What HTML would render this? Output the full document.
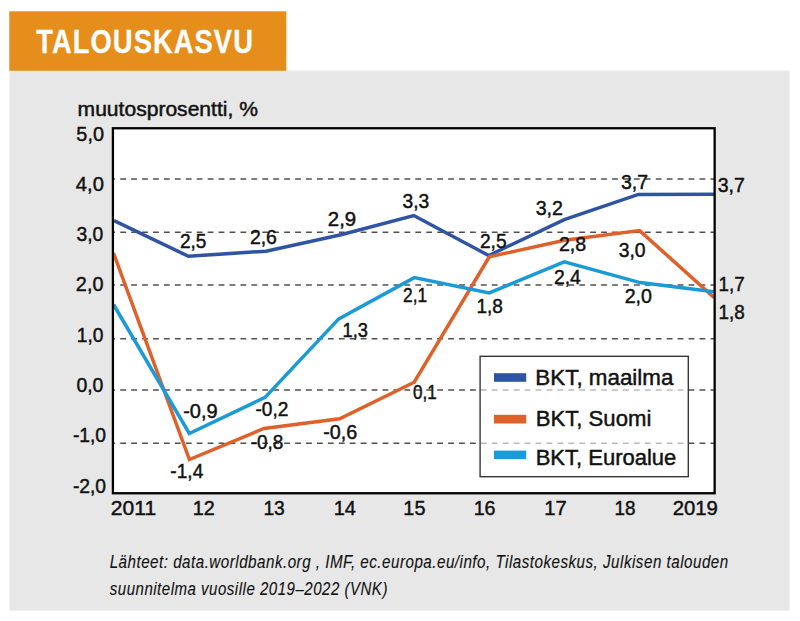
<!DOCTYPE html>
<html><head><meta charset="utf-8"><style>
html,body{margin:0;padding:0;background:#fff;width:800px;height:621px;overflow:hidden}
svg{display:block}
text{font-family:"Liberation Sans", sans-serif}
</style></head><body>
<svg width="800" height="621" viewBox="0 0 800 621">
<defs><clipPath id="cp"><rect x="112.9" y="128.25" width="601.75" height="365"/></clipPath></defs>
<rect x="9.5" y="70.6" width="780" height="540" fill="#E7E7E7"/>
<rect x="9.3" y="11.3" width="277" height="59.6" fill="#E68E1B"/>
<rect x="9.5" y="70.9" width="780" height="1" fill="#EDEDEF"/>
<text transform="translate(36.2,52.8) scale(0.8331,1)" style="font-size:32.8px;font-weight:bold;font-style:normal;letter-spacing:1.3px" fill="#ffffff" stroke="#ffffff" stroke-width="0.3" >TALOUSKASVU</text>
<text transform="translate(77.6,116.4) scale(1.0908,1)" style="font-size:19.32px;font-weight:normal;font-style:normal" fill="#111111" stroke="#111111" stroke-width="0.45" >muutosprosentti, %</text>
<rect x="112.9" y="128.25" width="601.75" height="365" fill="#ffffff"/>
<line x1="114" y1="179" x2="714" y2="179" stroke="#505050" stroke-width="1.6" stroke-dasharray="5.8 5.13" stroke-dashoffset="4.7"/>
<line x1="114" y1="232.25" x2="714" y2="232.25" stroke="#505050" stroke-width="1.6" stroke-dasharray="5.8 5.13" stroke-dashoffset="4.7"/>
<line x1="114" y1="285" x2="714" y2="285" stroke="#505050" stroke-width="1.6" stroke-dasharray="5.8 5.13" stroke-dashoffset="4.7"/>
<line x1="114" y1="338.75" x2="714" y2="338.75" stroke="#505050" stroke-width="1.6" stroke-dasharray="5.8 5.13" stroke-dashoffset="4.7"/>
<line x1="114" y1="390" x2="714" y2="390" stroke="#505050" stroke-width="1.6" stroke-dasharray="5.8 5.13" stroke-dashoffset="4.7"/>
<line x1="114" y1="443.25" x2="714" y2="443.25" stroke="#505050" stroke-width="1.6" stroke-dasharray="5.8 5.13" stroke-dashoffset="4.7"/>
<g clip-path="url(#cp)">
<polyline points="114,220.7 188.5,256.3 266,251.2 341,234.7 413.8,215.5 488.7,255.5 564.3,219.6 638.4,194.4 714,194.3" fill="none" stroke="#2F54A3" stroke-width="3.5" stroke-linejoin="miter" stroke-miterlimit="10"/>
<polyline points="113.5,253 189.4,459.5 264,428.5 339.6,418.8 414.2,382.2 489.3,256.9 564.5,240.2 639.6,230.6 714,297.5" fill="none" stroke="#E0602A" stroke-width="3.5" stroke-linejoin="miter" stroke-miterlimit="10"/>
<polyline points="113.5,304.5 189.3,433.5 265.1,397.4 338.75,318.9 414.3,277.6 489.2,292.9 564.3,261.9 640.1,282.6 714,291.7" fill="none" stroke="#1A9AD6" stroke-width="3.5" stroke-linejoin="miter" stroke-miterlimit="10"/>
</g>
<rect x="480.1" y="356.3" width="208.2" height="120.4" fill="#ffffff" fill-opacity="0.6" stroke="#3a3636" stroke-width="1.4"/>
<rect x="494" y="373.2" width="32.2" height="8.6" fill="#2F54A3"/>
<rect x="494" y="414.8" width="32.2" height="8.7" fill="#E0602A"/>
<rect x="494" y="450.6" width="32.2" height="8.5" fill="#1A9AD6"/>
<text transform="translate(535.34,384.6) scale(1.0400,1)" style="font-size:21.53px;font-weight:normal;font-style:normal" fill="#111111" stroke="#111111" stroke-width="0.45" >BKT, maailma</text>
<text transform="translate(535.72,426.4) scale(0.9965,1)" style="font-size:22.22px;font-weight:normal;font-style:normal" fill="#111111" stroke="#111111" stroke-width="0.45" >BKT, Suomi</text>
<text transform="translate(535.67,465.4) scale(1.0155,1)" style="font-size:21.67px;font-weight:normal;font-style:normal" fill="#111111" stroke="#111111" stroke-width="0.45" >BKT, Euroalue</text>
<rect x="112.9" y="128.25" width="601.75" height="365" fill="none" stroke="#000" stroke-width="2.3"/>
<text transform="translate(179.92,247.75) scale(0.9322,1)" style="font-size:20.49px;font-weight:normal;font-style:normal" fill="#111111" stroke="#111111" stroke-width="0.45" >2,5</text>
<text transform="translate(249.88,243.5) scale(0.9499,1)" style="font-size:20.49px;font-weight:normal;font-style:normal" fill="#111111" stroke="#111111" stroke-width="0.45" >2,6</text>
<text transform="translate(327.81,226) scale(0.9963,1)" style="font-size:20.49px;font-weight:normal;font-style:normal" fill="#111111" stroke="#111111" stroke-width="0.45" >2,9</text>
<text transform="translate(402.5,208.25) scale(0.9394,1)" style="font-size:20.49px;font-weight:normal;font-style:normal" fill="#111111" stroke="#111111" stroke-width="0.45" >3,3</text>
<text transform="translate(479.92,247.7) scale(0.9376,1)" style="font-size:20.49px;font-weight:normal;font-style:normal" fill="#111111" stroke="#111111" stroke-width="0.45" >2,5</text>
<text transform="translate(535.64,215.3) scale(0.9605,1)" style="font-size:20.49px;font-weight:normal;font-style:normal" fill="#111111" stroke="#111111" stroke-width="0.45" >3,2</text>
<text transform="translate(620.95,189.3) scale(0.9535,1)" style="font-size:20.49px;font-weight:normal;font-style:normal" fill="#111111" stroke="#111111" stroke-width="0.45" >3,7</text>
<text transform="translate(717.63,192.4) scale(0.9529,1)" style="font-size:20.49px;font-weight:normal;font-style:normal" fill="#111111" stroke="#111111" stroke-width="0.45" >3,7</text>
<text transform="translate(170.29,477.8) scale(0.9345,1)" style="font-size:20.49px;font-weight:normal;font-style:normal" fill="#111111" stroke="#111111" stroke-width="0.45" >-1,4</text>
<text transform="translate(250.68,448.6) scale(0.9269,1)" style="font-size:20.49px;font-weight:normal;font-style:normal" fill="#111111" stroke="#111111" stroke-width="0.45" >-0,8</text>
<text transform="translate(323.2,439) scale(0.9638,1)" style="font-size:20.49px;font-weight:normal;font-style:normal" fill="#111111" stroke="#111111" stroke-width="0.45" >-0,6</text>
<text transform="translate(412.9,398.7) scale(0.8337,1)" style="font-size:20.49px;font-weight:normal;font-style:normal" fill="#111111" stroke="#111111" stroke-width="0.45" >0,1</text>
<text transform="translate(558.97,250.5) scale(0.9554,1)" style="font-size:20.49px;font-weight:normal;font-style:normal" fill="#111111" stroke="#111111" stroke-width="0.45" >2,8</text>
<text transform="translate(618.64,257.4) scale(0.9441,1)" style="font-size:20.49px;font-weight:normal;font-style:normal" fill="#111111" stroke="#111111" stroke-width="0.45" >3,0</text>
<text transform="translate(718.43,318.7) scale(0.9212,1)" style="font-size:20.49px;font-weight:normal;font-style:normal" fill="#111111" stroke="#111111" stroke-width="0.45" >1,8</text>
<text transform="translate(183.18,418.3) scale(0.9783,1)" style="font-size:20.49px;font-weight:normal;font-style:normal" fill="#111111" stroke="#111111" stroke-width="0.45" >-0,9</text>
<text transform="translate(255.39,415.5) scale(0.9344,1)" style="font-size:20.49px;font-weight:normal;font-style:normal" fill="#111111" stroke="#111111" stroke-width="0.45" >-0,2</text>
<text transform="translate(342.57,337.4) scale(0.8925,1)" style="font-size:20.49px;font-weight:normal;font-style:normal" fill="#111111" stroke="#111111" stroke-width="0.45" >1,3</text>
<text transform="translate(403.03,302) scale(0.8464,1)" style="font-size:20.49px;font-weight:normal;font-style:normal" fill="#111111" stroke="#111111" stroke-width="0.45" >2,1</text>
<text transform="translate(476.43,312.9) scale(0.9280,1)" style="font-size:20.49px;font-weight:normal;font-style:normal" fill="#111111" stroke="#111111" stroke-width="0.45" >1,8</text>
<text transform="translate(553.91,284.1) scale(0.9457,1)" style="font-size:20.49px;font-weight:normal;font-style:normal" fill="#111111" stroke="#111111" stroke-width="0.45" >2,4</text>
<text transform="translate(624.71,302.9) scale(0.9577,1)" style="font-size:20.49px;font-weight:normal;font-style:normal" fill="#111111" stroke="#111111" stroke-width="0.45" >2,0</text>
<text transform="translate(718.58,291.2) scale(0.9164,1)" style="font-size:20.49px;font-weight:normal;font-style:normal" fill="#111111" stroke="#111111" stroke-width="0.45" >1,7</text>
<text transform="translate(76.34,141) scale(0.9645,1)" style="font-size:20.63px;font-weight:normal;font-style:normal" fill="#111111" stroke="#111111" stroke-width="0.45" >5,0</text>
<text transform="translate(75.85,190.5) scale(0.9804,1)" style="font-size:20.63px;font-weight:normal;font-style:normal" fill="#111111" stroke="#111111" stroke-width="0.45" >4,0</text>
<text transform="translate(76.51,240.75) scale(0.9365,1)" style="font-size:20.63px;font-weight:normal;font-style:normal" fill="#111111" stroke="#111111" stroke-width="0.45" >3,0</text>
<text transform="translate(75.85,291) scale(0.9622,1)" style="font-size:20.63px;font-weight:normal;font-style:normal" fill="#111111" stroke="#111111" stroke-width="0.45" >2,0</text>
<text transform="translate(76.8,341.5) scale(0.9311,1)" style="font-size:20.63px;font-weight:normal;font-style:normal" fill="#111111" stroke="#111111" stroke-width="0.45" >1,0</text>
<text transform="translate(76.42,391.75) scale(0.9421,1)" style="font-size:20.63px;font-weight:normal;font-style:normal" fill="#111111" stroke="#111111" stroke-width="0.45" >0,0</text>
<text transform="translate(72.89,442) scale(0.9343,1)" style="font-size:20.63px;font-weight:normal;font-style:normal" fill="#111111" stroke="#111111" stroke-width="0.45" >-1,0</text>
<text transform="translate(72.89,492.5) scale(0.9343,1)" style="font-size:20.63px;font-weight:normal;font-style:normal" fill="#111111" stroke="#111111" stroke-width="0.45" >-2,0</text>
<text transform="translate(110.78,515) scale(1.0513,1)" style="font-size:20.06px;font-weight:normal;font-style:normal" fill="#111111" stroke="#111111" stroke-width="0.45" >2011</text>
<text transform="translate(192.7,515) scale(0.9865,1)" style="font-size:20.06px;font-weight:normal;font-style:normal" fill="#111111" stroke="#111111" stroke-width="0.45" >12</text>
<text transform="translate(263.44,515) scale(0.9585,1)" style="font-size:20.06px;font-weight:normal;font-style:normal" fill="#111111" stroke="#111111" stroke-width="0.45" >13</text>
<text transform="translate(333.66,515) scale(0.9946,1)" style="font-size:20.06px;font-weight:normal;font-style:normal" fill="#111111" stroke="#111111" stroke-width="0.45" >14</text>
<text transform="translate(403.37,515) scale(0.9885,1)" style="font-size:20.06px;font-weight:normal;font-style:normal" fill="#111111" stroke="#111111" stroke-width="0.45" >15</text>
<text transform="translate(473.66,515) scale(0.9808,1)" style="font-size:20.06px;font-weight:normal;font-style:normal" fill="#111111" stroke="#111111" stroke-width="0.45" >16</text>
<text transform="translate(544.24,515) scale(1.0080,1)" style="font-size:20.06px;font-weight:normal;font-style:normal" fill="#111111" stroke="#111111" stroke-width="0.45" >17</text>
<text transform="translate(614.43,515) scale(0.9409,1)" style="font-size:20.06px;font-weight:normal;font-style:normal" fill="#111111" stroke="#111111" stroke-width="0.45" >18</text>
<text transform="translate(672.69,515) scale(1.0130,1)" style="font-size:20.06px;font-weight:normal;font-style:normal" fill="#111111" stroke="#111111" stroke-width="0.45" >2019</text>
<text transform="translate(109.63,568.4) scale(0.8331,1)" style="font-size:18.22px;font-weight:normal;font-style:italic;letter-spacing:0.6px" fill="#111111" stroke="#111111" stroke-width="0.12" >Lähteet: data.worldbank.org , IMF, ec.europa.eu/info, Tilastokeskus, Julkisen talouden</text>
<text transform="translate(109.78,595.4) scale(0.8329,1)" style="font-size:18.08px;font-weight:normal;font-style:italic;letter-spacing:0.6px" fill="#111111" stroke="#111111" stroke-width="0.12" >suunnitelma vuosille 2019–2022 (VNK)</text>
</svg>
</body></html>
